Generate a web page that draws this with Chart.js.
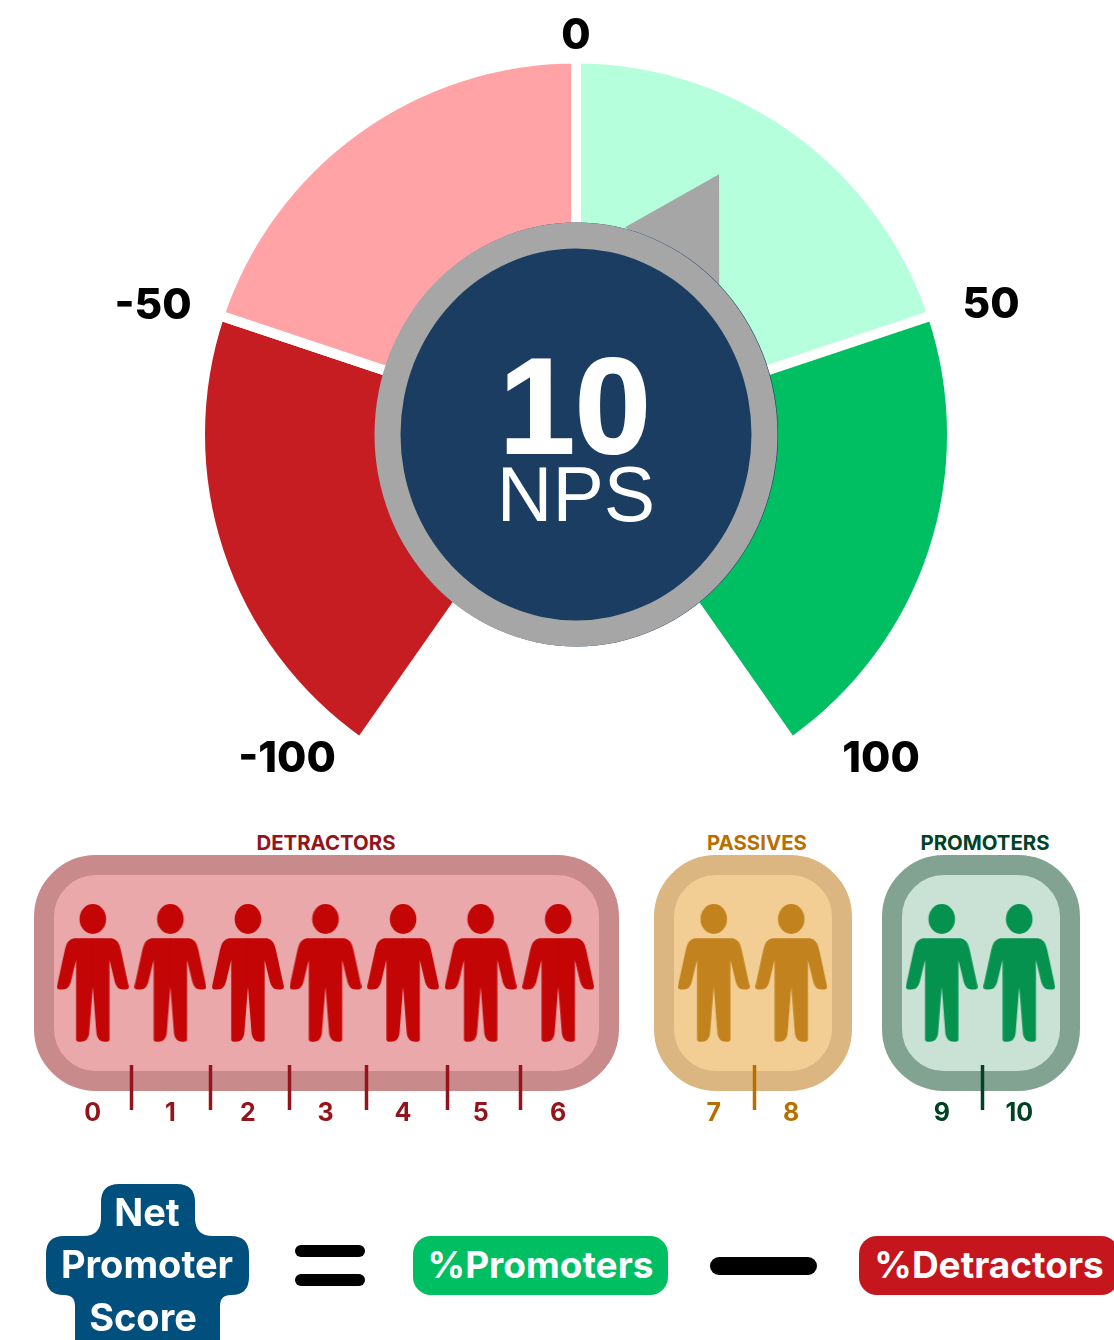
<!doctype html>
<html lang="en">
<head>
<meta charset="utf-8" />
<title>Net Promoter Score</title>
<script src="https://cdn.jsdelivr.net/npm/chart.js"></script>
<style>
  html, body { margin: 0; background: #fff; }
  #page { position: relative; width: 1114px; height: 1340px; overflow: hidden; font-family: Inter, sans-serif; font-weight: 700; }
  #page canvas { position: absolute; }
  .abs { position: absolute; white-space: nowrap; transform: translate(-50%, -50%); line-height: 1; }
  .gauge-label { font-size: 42.5px; font-weight: 800; color: #000; }
  .heading { font-size: 20.4px; }
  .box { position: absolute; box-sizing: border-box; top: 855px; height: 236px; border-width: 20px; border-style: solid; border-radius: 62px; }
  .bar { position: absolute; background: #000; }
  .pill { position: absolute; top: 1236px; height: 59px; border-radius: 18px; color: #fff; font-size: 37px; line-height: 57px; text-align: center; }
  #center-score { font: 700 136px "Liberation Sans", sans-serif; color: #fff; -webkit-text-stroke: 2px #fff; }
  #center-name { font: 400 77px "Liberation Sans", sans-serif; color: #fff; }
  .nps-word { font-size: 38px; color: #fff; }
</style>
</head>
<body>
<div id="page">
  <canvas id="gauge" width="1114" height="801" style="left:0;top:0"></canvas>
  <div class="abs" id="center-score" style="left:575px;top:406px">10</div>
  <div class="abs" id="center-name" style="left:576px;top:494px">NPS</div>
  <div class="abs gauge-label" style="left:576px;top:34px">0</div>
  <div class="abs gauge-label" style="left:153px;top:304px">-50</div>
  <div class="abs gauge-label" style="left:991px;top:303px">50</div>
  <div class="abs gauge-label" style="left:287px;top:757px">-100</div>
  <div class="abs gauge-label" style="left:881px;top:757px">100</div>

  <div class="abs heading" style="left:326px;top:843px;color:#95141b">DETRACTORS</div>
  <div class="abs heading" style="left:757px;top:843px;color:#b86f00">PASSIVES</div>
  <div class="abs heading" style="left:985px;top:843px;color:#004225">PROMOTERS</div>

  <div class="box" style="left:34px;width:585px;background:#eba8aa;border-color:#c98a8b"></div>
  <div class="box" style="left:654px;width:198px;background:#f2ce95;border-color:#dcb680"></div>
  <div class="box" style="left:882px;width:198px;background:#cae2d5;border-color:#83a392"></div>
  <canvas id="detractors" width="543" height="244" style="left:54px;top:881px"></canvas>
  <canvas id="passives" width="155" height="244" style="left:675px;top:881px"></canvas>
  <canvas id="promoters" width="155" height="244" style="left:903px;top:881px"></canvas>

  <svg style="position:absolute;left:0;top:0" width="1114" height="1340">
    <path fill="#004f7c" d="M119 1184H177Q195 1184 195 1202V1218Q195 1236 213 1236H231Q249 1236 249 1254V1277Q249 1295 231 1295Q220 1295 220 1306V1340H75V1306Q75 1295 64 1295Q46 1295 46 1277V1254Q46 1236 64 1236H83Q101 1236 101 1218V1202Q101 1184 119 1184Z"/>
  </svg>
  <div class="abs nps-word" style="left:147px;top:1212px">Net</div>
  <div class="abs nps-word" style="left:147px;top:1264px">Promoter</div>
  <div class="abs nps-word" style="left:143px;top:1317px">Score</div>

  <div class="bar" style="left:295px;top:1245px;width:70px;height:12px;border-radius:6px"></div>
  <div class="bar" style="left:295px;top:1274px;width:70px;height:12px;border-radius:6px"></div>
  <div class="pill" style="left:413px;width:255px;background:#00bf63">%Promoters</div>
  <div class="bar" style="left:710px;top:1257px;width:107px;height:18px;border-radius:9px"></div>
  <div class="pill" style="left:859px;width:260px;background:#c4161c">%Detractors</div>
</div>
<script>
const gaugeSegments = ['Detractors low', 'Detractors high', 'Promoters low', 'Promoters high'];
// end slices a bit wider: the white stroke eats into the two open ends
const gaugeWidths = [51.05, 49.65, 49.65, 51.05];
const gaugeColors = ['#c51d22', '#ffa3a6', '#b5ffdc', '#00bf63'];
const npsValue = 10;

const detractorScores = ['0', '1', '2', '3', '4', '5', '6'];
const passiveScores = ['7', '8'];
const promoterScores = ['9', '10'];

// where the divider ticks fall, in score slots
const detractorDividers = [0.5, 1.52, 2.53, 3.53, 4.57, 5.52];
const passiveDividers = [0.53];
const promoterDividers = [0.53];

const sweep = 288;

Chart.defaults.font.family = 'Inter, sans-serif';
Chart.defaults.animation = false;

// needle and hub sit on top of the slices, the text is html above the canvas
const hubPlugin = {
  id: 'hub',
  afterDatasetsDraw(chart) {
    const arc = chart.getDatasetMeta(0).data[0];
    const { x, y } = arc;
    const ctx = chart.ctx;
    const mid = (npsValue / 100 * sweep - 90) * Math.PI / 180;
    const half = 15.5 * Math.PI / 180;
    ctx.save();
    ctx.fillStyle = '#a6a6a6';
    ctx.beginPath();
    ctx.moveTo(x + 297 * Math.cos(mid), y + 297 * Math.sin(mid));
    ctx.lineTo(x + 213 * Math.cos(mid - half), y + 213 * Math.sin(mid - half));
    ctx.lineTo(x + 205 * Math.cos(mid + half), y + 205 * Math.sin(mid + half));
    ctx.fill();
    ctx.fillStyle = '#1a3d61';
    ctx.beginPath();
    ctx.ellipse(x + 0.6, y, 201.5, 212, 0, 0, Math.PI * 2);
    ctx.fill();
    ctx.fillStyle = '#a6a6a6';
    ctx.beginPath();
    ctx.ellipse(x, y, 201.5, 212, 0, 0, Math.PI * 2);
    ctx.fill();
    ctx.fillStyle = '#1a3d61';
    ctx.beginPath();
    ctx.ellipse(x, y, 175.5, 186, 0, 0, Math.PI * 2);
    ctx.fill();
    ctx.restore();
  },
};

new Chart(document.getElementById('gauge'), {
  type: 'doughnut',
  data: {
    labels: gaugeSegments,
    datasets: [{ data: gaugeWidths, backgroundColor: gaugeColors, borderColor: '#fff', borderWidth: 10 }],
  },
  options: {
    responsive: false,
    rotation: -(sweep + 2) / 2,
    circumference: sweep + 2,
    radius: 376,
    cutout: '50%',
    layout: { padding: { left: 38 } },
    plugins: { legend: { display: false }, tooltip: { enabled: false } },
  },
  plugins: [hubPlugin],
});

function personIcon(color) {
  const canvas = document.createElement('canvas');
  canvas.width = 72;
  canvas.height = 138;
  const ctx = canvas.getContext('2d');
  ctx.fillStyle = color;
  ctx.beginPath();
  ctx.ellipse(36, 15, 13.3, 15, 0, 0, Math.PI * 2);
  ctx.fill();
  const half = () => {
    ctx.beginPath();
    ctx.moveTo(36.5, 34.3);
    ctx.lineTo(17, 34.3);
    ctx.quadraticCurveTo(10, 35.5, 8, 46);
    ctx.lineTo(0.2, 82);
    ctx.quadraticCurveTo(-0.3, 85.5, 3, 85.5);
    ctx.lineTo(6, 85.5);
    ctx.quadraticCurveTo(12, 85.5, 14, 78);
    ctx.lineTo(19.3, 56);
    ctx.lineTo(19.3, 135);
    ctx.quadraticCurveTo(19.3, 137.7, 22, 137.7);
    ctx.lineTo(24, 137.7);
    ctx.quadraticCurveTo(31, 137.7, 32.3, 130);
    ctx.lineTo(36, 82.7);
    ctx.lineTo(36.5, 82.7);
    ctx.closePath();
    ctx.fill();
  };
  half();
  ctx.translate(72, 0);
  ctx.scale(-1, 1);
  half();
  return canvas;
}

// one linear axis: whole ticks carry the score label, the others are only divider marks
function scoreChart(id, scores, dividers, iconColor, labelColor) {
  new Chart(document.getElementById(id), {
    type: 'scatter',
    data: {
      datasets: [{
        data: scores.map((score, slot) => ({ x: slot, y: 1 })),
        pointStyle: personIcon(iconColor),
        pointRadius: 10,
        clip: false,
      }],
    },
    options: {
      responsive: false,
      layout: { padding: 0, autoPadding: false },
      plugins: { legend: { display: false }, tooltip: { enabled: false } },
      scales: {
        y: { display: false, min: 0, max: 2 },
        x: {
          type: 'linear',
          min: -0.5,
          max: scores.length - 0.5,
          border: { display: false },
          afterBuildTicks(scale) {
            scale.ticks = [...scores.keys(), ...dividers].sort((a, b) => a - b).map((value) => ({ value }));
          },
          afterFit(scale) { scale.height = 60; },
          grid: {
            drawOnChartArea: false,
            tickLength: 45,
            tickWidth: 3.5,
            tickColor: (ctx) => (Number.isInteger(ctx.tick?.value) ? 'transparent' : labelColor),
          },
          ticks: {
            color: labelColor,
            padding: -12,
            maxRotation: 0,
            autoSkip: false,
            font: { size: 25, weight: 700 },
            callback: (value) => (Number.isInteger(value) ? scores[value] : ''),
          },
        },
      },
    },
  });
}

scoreChart('detractors', detractorScores, detractorDividers, '#c30505', '#95141b');
scoreChart('passives', passiveScores, passiveDividers, '#c2831f', '#b86f00');
scoreChart('promoters', promoterScores, promoterDividers, '#05924f', '#004225');
</script>
</body>
</html>
